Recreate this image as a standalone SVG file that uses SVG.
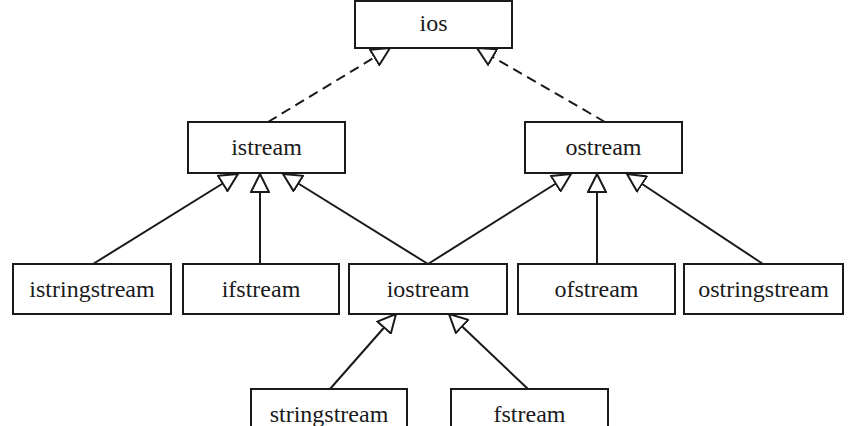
<svg xmlns="http://www.w3.org/2000/svg" width="856" height="426" viewBox="0 0 856 426">
<style>
.box{fill:#fff;stroke:#1a1a1a;stroke-width:2}
.lbl{font-family:"Liberation Serif","Times New Roman",serif;font-size:24px;fill:#1a1a1a;text-anchor:middle}
.c{fill:none;stroke:#1a1a1a;stroke-width:2;marker-end:url(#tri)}
.d{stroke-dasharray:10,6}
</style>
<defs>
<marker id="tri" viewBox="0 0 20 20" refX="19" refY="10" markerWidth="20" markerHeight="20" markerUnits="userSpaceOnUse" orient="auto">
<path d="M1,1 L19,10 L1,19 Z" fill="#fff" stroke="#1a1a1a" stroke-width="2" stroke-linejoin="miter"/>
</marker>
</defs>
<rect width="856" height="426" fill="#fff"/>
<g id="connectors">
<path class="c d" d="M268,122 L390,48"/>
<path class="c d" d="M605,122 L477,48"/>
<path class="c" d="M93,264 L238,174"/>
<path class="c" d="M260,264 L260,174"/>
<path class="c" d="M428,264 L283,174"/>
<path class="c" d="M428,264 L571,174"/>
<path class="c" d="M597,264 L597,174"/>
<path class="c" d="M763,264 L627,174"/>
<path class="c" d="M330,389 L396,314"/>
<path class="c" d="M528,389 L449,314"/>
</g>
<g id="ios"><rect class="box" x="355" y="1" width="157" height="47"/><text class="lbl" x="433.5" y="31">ios</text></g>
<g id="istream"><rect class="box" x="188" y="122" width="157" height="51"/><text class="lbl" x="266.5" y="155">istream</text></g>
<g id="ostream"><rect class="box" x="525" y="122" width="157" height="51"/><text class="lbl" x="603.5" y="155">ostream</text></g>
<g id="istringstream"><rect class="box" x="13" y="264" width="158" height="50"/><text class="lbl" x="92" y="297">istringstream</text></g>
<g id="ifstream"><rect class="box" x="183" y="264" width="156" height="50"/><text class="lbl" x="261" y="297">ifstream</text></g>
<g id="iostream"><rect class="box" x="349" y="264" width="158" height="50"/><text class="lbl" x="428" y="297">iostream</text></g>
<g id="ofstream"><rect class="box" x="518" y="264" width="157" height="50"/><text class="lbl" x="596.5" y="297">ofstream</text></g>
<g id="ostringstream"><rect class="box" x="684" y="264" width="159" height="50"/><text class="lbl" x="763.5" y="297">ostringstream</text></g>
<g id="stringstream"><rect class="box" x="251" y="389" width="156" height="50"/><text class="lbl" x="329" y="422">stringstream</text></g>
<g id="fstream"><rect class="box" x="451" y="389" width="157" height="50"/><text class="lbl" x="529.5" y="422">fstream</text></g>
</svg>
